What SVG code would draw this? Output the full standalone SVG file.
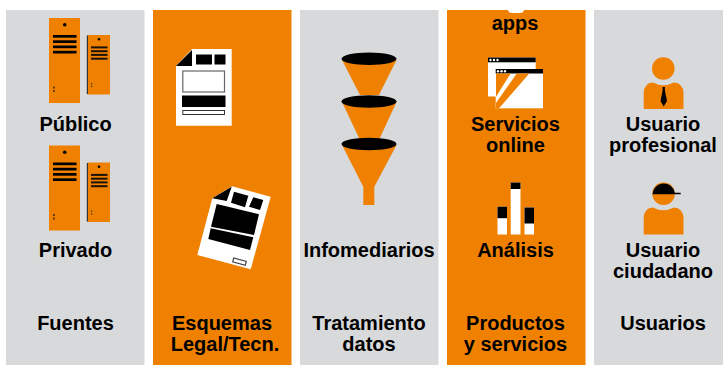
<svg xmlns="http://www.w3.org/2000/svg" width="723" height="365" viewBox="0 0 723 365">
<style>
.g{fill:#d8d9db}.o{fill:#f08100}.k{fill:#000}.w{fill:#fff}
text{font-family:"Liberation Sans",Arial,sans-serif;font-weight:700;font-size:20px;fill:#000;text-anchor:middle}
</style>
<defs>
<g id="srv">
<rect class="o" x="49" y="18" width="31" height="85"/>
<circle class="k" cx="64.700" cy="24.700" r="1.800"/>
<rect class="k" x="53" y="35" width="23.500" height="2.700"/>
<rect class="k" x="53" y="40.300" width="23.500" height="2.700"/>
<rect class="k" x="53" y="45.500" width="23.500" height="2.700"/>
<rect class="k" x="53" y="50.800" width="23.500" height="2.700"/>
<rect x="53" y="86.500" width="1.800" height="2" fill="#5a3a10"/>
<rect x="53" y="90" width="1.800" height="2" fill="#5a3a10"/>
<rect class="o" x="87.500" y="35" width="22.500" height="59.500"/>
<rect x="86.800" y="35.500" width="1.200" height="58.500" fill="#333"/>
<circle class="k" cx="99" cy="39.300" r="1.300"/>
<rect x="91" y="46.400" width="16.500" height="2" fill="#1c1208"/>
<rect x="91" y="50.200" width="16.500" height="2" fill="#1c1208"/>
<rect x="91" y="53.900" width="16.500" height="2" fill="#1c1208"/>
<rect x="91" y="57.700" width="16.500" height="2" fill="#1c1208"/>
<rect x="91" y="83" width="1.200" height="1.500" fill="#5a3a10"/>
<rect x="91" y="85.700" width="1.200" height="1.500" fill="#5a3a10"/>
</g>
</defs>
<rect width="723" height="365" fill="#fff"/>
<g id="col-fuentes">
<rect class="g" x="6" y="10" width="138.500" height="355"/>
<use id="srv-publico" href="#srv"/>
<text x="75.500" y="131">Público</text>
<use id="srv-privado" href="#srv" y="127.500"/>
<text x="75.500" y="256.700">Privado</text>
<text x="75.500" y="329.500">Fuentes</text>
</g>
<g id="col-esquemas">
<rect class="o" x="153" y="10" width="138.500" height="355"/>
<g id="doc-legal">
<path class="w" d="M176 66L192 49H231.700V125.700H176Z"/>
<path class="k" d="M176 66L192 50V66Z"/>
<rect class="k" x="196" y="54.500" width="16" height="10"/>
<rect class="k" x="214.500" y="54.500" width="11" height="10"/>
<rect x="182.800" y="71" width="41.700" height="21" fill="#fff" stroke="#666" stroke-width="1.200"/>
<rect class="k" x="182" y="95.500" width="43.500" height="11.500"/>
<rect x="182.800" y="110.500" width="41.700" height="4" fill="#fff" stroke="#333" stroke-width="1"/>
</g>
<g id="doc-tecn">
<path class="w" d="M212.300 198.300L232 186.300L270.700 196.700L250.700 269.300L197.300 255Z"/>
<path class="k" d="M212.300 198.300L231.700 186.700L226.700 201Z"/>
<path class="k" d="M234 191.700L248.300 195.700L245 207.300L231 202.700Z"/>
<path class="k" d="M253.300 197.300L263.300 200L260 210L249 206.700Z"/>
<path class="k" d="M216.700 204L259 214.300L254 235L211 226.700Z"/>
<path class="k" d="M210.700 228.300L253.300 237.300L250 250L208.300 239Z"/>
<rect x="233" y="259.700" width="13" height="4" fill="#fff" stroke="#444" stroke-width="1.200" transform="rotate(15 239.500 261.700)"/>
</g>
<text x="222" y="329.500">Esquemas</text>
<text x="225" y="350.500">Legal/Tecn.</text>
</g>
<g id="col-tratamiento">
<rect class="g" x="300" y="10" width="138.500" height="355"/>
<g id="funnel">
<path class="o" d="M342 60H396.500L379 95H360Z"/>
<path class="o" d="M342 102H396.500L379 140H360Z"/>
<path class="o" d="M342 145H396.500L374.300 186.700V205H363.300V186.700Z"/>
<ellipse class="k" cx="369" cy="58.800" rx="27.500" ry="6.300"/>
<ellipse class="k" cx="369" cy="101.500" rx="27.500" ry="6.300"/>
<ellipse class="k" cx="369" cy="144" rx="27.500" ry="6.300"/>
</g>
<text x="369" y="256.700">Infomediarios</text>
<text x="369" y="329.500">Tratamiento</text>
<text x="369" y="350.500">datos</text>
</g>
<g id="col-productos">
<rect class="o" x="447" y="10" width="138.500" height="355"/>
<path id="apps-icon" class="w" d="M508 10H524V10.500Q523 13 520 13H512Q509 13 508 10.500Z"/>
<text x="515" y="30">apps</text>
<g id="windows">
<rect class="w" x="488" y="57.500" width="47.700" height="39"/>
<rect class="k" x="488" y="57.500" width="47.700" height="4.800"/>
<rect class="w" x="495.700" y="69" width="47.300" height="39.300"/>
<rect class="k" x="495.700" y="69" width="47.300" height="4.500"/>
<g class="w"><circle cx="490.500" cy="60" r="1.200"/><circle cx="494" cy="60" r="1.200"/><circle cx="497.500" cy="60" r="1.200"/><circle cx="498" cy="71.300" r="1.200"/><circle cx="501.500" cy="71.300" r="1.200"/><circle cx="505" cy="71.300" r="1.200"/></g>
<path class="o" d="M496 73.500H510.700L496 96.700Z"/>
<path class="o" d="M516.700 73.500H529.300L499 108.300H496V103Z"/>
</g>
<text x="515.500" y="131">Servicios</text>
<text x="515.500" y="151.500">online</text>
<g id="bars">
<rect class="w" x="497.500" y="206.700" width="9.500" height="27.800"/>
<rect class="k" x="497.500" y="206.700" width="9.500" height="11.500"/>
<rect class="w" x="510.700" y="182.500" width="9.800" height="52"/>
<rect class="k" x="510.700" y="182.500" width="9.800" height="6.500"/>
<rect class="w" x="524.500" y="207.500" width="9.500" height="27"/>
<rect class="k" x="524.500" y="207.500" width="9.500" height="16"/>
</g>
<text x="515.500" y="256.700">Análisis</text>
<text x="515.500" y="329.500">Productos</text>
<text x="515.500" y="350.500">y servicios</text>
</g>
<g id="col-usuarios">
<rect class="g" x="594" y="10" width="129" height="355"/>
<g id="user-pro">
<circle class="o" cx="663.300" cy="68.500" r="11.300"/>
<path class="o" d="M643.700 109V93Q644 83 653 82.500Q663 88 674 82.500Q683 83 683.500 93V109Z"/>
<path class="k" d="M662.500 87H665L664.800 90L667 101L663.700 106.500L660.500 101L662.700 90Z"/>
</g>
<text x="663" y="131">Usuario</text>
<text x="663" y="151.500">profesional</text>
<g id="user-ciudadano">
<circle class="o" cx="663.600" cy="193.800" r="11.300"/>
<path class="k" d="M652.400 194.300A11.300 11.300 0 0 1 674.800 192.700H680.700V194.300Z"/>
<path class="o" d="M643.700 234.500V218Q644 208 653 207.500Q663 213 674 207.500Q683 208 683.500 218V234.500Z"/>
</g>
<text x="663" y="256.700">Usuario</text>
<text x="663" y="277.500">ciudadano</text>
<text x="663" y="329.500">Usuarios</text>
</g>
</svg>
